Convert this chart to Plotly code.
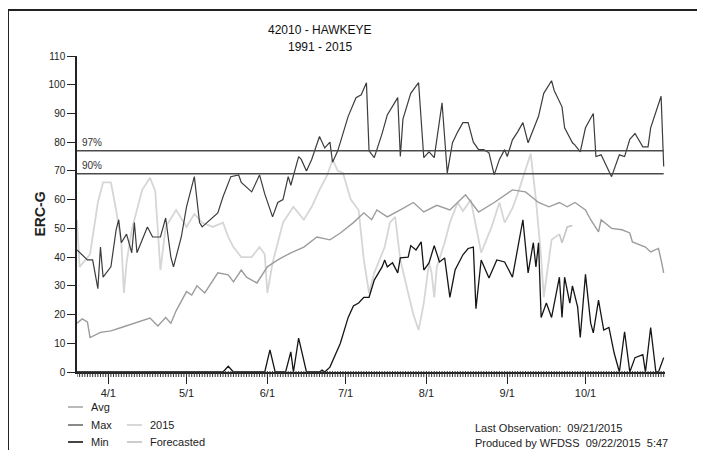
import plotly.graph_objects as go
import pandas as pd

YEAR = "2015-"

# ---------------- data ----------------
max_dates = ["03-20","03-24","03-26","03-28","03-29","03-30","04-02","04-04","04-05","04-06",
             "04-08","04-10","04-11","04-12","04-16","04-18","04-21","04-23","04-25","04-26",
             "04-29","05-01","05-04","05-06","05-07","05-11","05-13","05-15","05-18","05-21",
             "05-22","05-26","05-29","05-31","06-03","06-05","06-07","06-09","06-10","06-13",
             "06-14","06-16","06-18","06-21","06-23","06-25","06-26","06-28","07-02","07-05",
             "07-07","07-09","07-10","07-12","07-15","07-17","07-21","07-22","07-23","07-26",
             "07-29","07-31","08-02","08-04","08-07","08-09","08-11","08-13","08-15","08-17",
             "08-19","08-21","08-23","08-25","08-27","08-29","08-31","09-01","09-03","09-05",
             "09-07","09-09","09-13","09-15","09-18","09-19","09-22","09-23","09-26","09-27",
             "09-29","10-01","10-04","10-05","10-07","10-11","10-14","10-16","10-18","10-20",
             "10-23","10-25","10-26","10-30","10-31"]
max_vals = [42.5,39,39,29,43.5,33,36.6,49.5,53,45,
            48,41.5,52,41.5,50.5,47,47,53.6,40,36.6,
            47,57.5,68,52,50.5,54,55.4,61,68,68.6,
            66,62.7,68.6,62,54,59,60,68,65,75,
            74,70,74,82,78,80,73,77,89,95.5,
            96.5,100.7,77,74.6,83,89.5,95.5,75,88,97,
            100.7,74.6,76.6,74.6,93.7,69.3,79.8,83.6,86.8,86.8,
            80,77.4,77.4,76.3,68.6,74,77.4,75,80.8,83.6,
            86.8,79.8,89,97,101.4,98,92.3,85,79.8,79,
            76.6,85,90,75,75.6,68,75.6,75,81,83,
            78.4,78.4,85,96,71.5]

min_dates = ["03-20","05-15","05-17","05-19","05-31","06-02","06-04","06-08","06-10","06-11",
             "06-13","06-16","06-21","06-22","06-23","06-25","06-29","07-02","07-04","07-06",
             "07-08","07-10","07-12","07-15","07-16","07-17","07-19","07-21","07-22","07-25",
             "07-26","07-28","07-30","07-31","08-02","08-04","08-06","08-08","08-10","08-12",
             "08-15","08-17","08-19","08-20","08-22","08-25","08-28","08-31","09-03","09-07",
             "09-09","09-11","09-12","09-13","09-14","09-16","09-18","09-21","09-22","09-23",
             "09-25","09-26","09-28","09-29","10-01","10-03","10-04","10-06","10-08","10-10",
             "10-12","10-14","10-16","10-18","10-20","10-23","10-24","10-26","10-28","10-29",
             "10-31"]
min_vals = [0,0,2,0,0,7.7,0,0,7,0,
            11.8,0,0,0.7,0,1.7,10,19,23,24,
            26,26,32,36.6,39,36.6,38,34.5,39.7,40,
            44,42.5,45.3,35.5,38,44,38.3,39.7,26,35.5,
            40.8,43,43.5,22,39,32.7,39,38.3,33,53,
            34.5,45,36.6,45,19,24,19,33,19,33,
            24,30,22.6,12,34,17,13.6,25,14.6,15.5,
            6.6,0,14,0,5,6,0,15.5,0,0,
            5]

avg_dates = ["03-20","03-22","03-24","03-25","03-29","04-02","04-06","04-09","04-13","04-17",
             "04-20","04-23","04-25","04-27","05-01","05-03","05-05","05-08","05-13","05-17",
             "05-19","05-22","05-24","05-28","06-01","06-05","06-10","06-15","06-20","06-25",
             "06-29","07-04","07-08","07-11","07-13","07-17","07-22","07-27","07-31","08-05",
             "08-10","08-16","08-21","08-27","09-03","09-08","09-13","09-17","09-21","09-24",
             "09-27","10-01","10-03","10-06","10-07","10-11","10-15","10-18","10-19","10-24",
             "10-26","10-29","10-30","10-31"]
avg_vals = [17,18.5,17.4,12,13.8,14.3,15.5,16.4,17.5,18.8,
            16,19,17,21.3,28,26.8,30,27.5,34.5,33.8,
            31.4,35.5,33,31,36.6,39,41.5,43.5,47,46,
            48.4,52,55.4,53,56.4,54,56.4,59,55.7,58,
            56.4,61.7,55.7,59,63.4,62.7,59,57.5,59,57.5,
            59,56.4,53,48.8,53,50,49.5,48.4,45.3,43.5,
            41.8,43,39,34.5]

obs_dates = ["03-20","03-21","03-25","03-28","03-30","04-02","04-04","04-06","04-07","04-08",
             "04-10","04-12","04-14","04-17","04-19","04-21","04-23","04-27","05-01","05-04",
             "05-07","05-11","05-15","05-17","05-19","05-22","05-26","05-29","05-31","06-01",
             "06-03","06-07","06-11","06-15","06-18","06-21","06-24","06-26","06-28","06-30",
             "07-03","07-06","07-08","07-10","07-12","07-16","07-18","07-20","07-22","07-25",
             "07-27","07-29","07-31","08-02","08-03","08-04","08-05","08-08","08-10","08-13",
             "08-15","08-18","08-22","08-26","08-29","08-31","09-03","09-05","09-08","09-10",
             "09-12","09-14","09-15","09-18","09-21"]
obs_vals = [53,36.6,41,59,66,66,56.4,45,27.5,38,
            49.5,56.4,63.4,67.6,63,35.5,50.5,56.4,50.5,55,
            52,50.5,52,47,43.5,40,40,43.5,41,27.5,
            38,52,57.5,53,57.5,63.4,68.6,74,70,69.3,
            60,56.4,39,27.5,34.5,43.5,52,54,39,27.5,
            20,14.6,24,38,34.5,26,36.6,45,52,59,
            56,60,41.5,50.5,59,52,57,62,70,76,
            60,40,26,46,48]

fc_dates = ["09-21","09-22","09-24","09-26"]
fc_vals = [48,45,50.5,51]

pct_labels = ["97%", "90%"]
pct_vals = [77, 69]

month_ticks = ["04-01","05-01","06-01","07-01","08-01","09-01","10-01"]
month_text = ["4/1","5/1","6/1","7/1","8/1","9/1","10/1"]
y_ticks = list(range(0, 111, 10))

first_day, last_day = "03-20", "10-31"

def d(lst):
    return [YEAR + s for s in lst]

# daily minor tick positions along the x axis
day_ticks = [t.strftime("%Y-%m-%d") for t in pd.date_range(YEAR + first_day, YEAR + last_day, freq="D")]

# ---------------- geometry helpers ----------------
# The page body adds an 8px offset; screen pixel positions are converted to figure pixels.
OFF = 8
W, H = 705 - OFF, 450 - OFF
L, R, T, B = 77 - OFF, 665 - OFF, 56 - OFF, 372 - OFF
def px(x):   # x in screen pixels
    return (x - OFF - L) / (R - L)
def py(y):   # y in screen pixels
    return (B - (y - OFF)) / (B - T)

FONT = "Liberation Sans, Arial, sans-serif"

fig = go.Figure()
fig.add_trace(go.Scatter(x=d(obs_dates), y=obs_vals, mode="lines",
                         line=dict(color="#d6d6d6", width=1.8), name="2015"))
fig.add_trace(go.Scatter(x=d(fc_dates), y=fc_vals, mode="lines",
                         line=dict(color="#c4c4c4", width=1.6), name="Forecasted"))
fig.add_trace(go.Scatter(x=d(avg_dates), y=avg_vals, mode="lines",
                         line=dict(color="#9c9c9c", width=1.4), name="Avg"))
fig.add_trace(go.Scatter(x=d(min_dates), y=min_vals, mode="lines",
                         line=dict(color="#151515", width=1.3), name="Min"))
fig.add_trace(go.Scatter(x=d(max_dates), y=max_vals, mode="lines",
                         line=dict(color="#3c3c3c", width=1.2), name="Max"))
for lab, v in zip(pct_labels, pct_vals):
    fig.add_trace(go.Scatter(x=[YEAR + first_day, YEAR + last_day], y=[v, v], mode="lines",
                             line=dict(color="#4a4a4a", width=1.6), name=lab))
    fig.add_annotation(x=px(80), xref="paper", y=v, yref="y", text=lab, showarrow=False,
                       xanchor="left", yanchor="bottom", yshift=1,
                       font=dict(family=FONT, size=10, color="#333"))

# daily minor ticks (comb on the x axis), drawn as short vertical shapes hanging below the axis
tick_top = py(371)
tick_bot = py(377)
shapes = []
for t in day_ticks:
    shapes.append(dict(type="line", xref="x", yref="paper", x0=t, x1=t, y0=tick_bot, y1=tick_top,
                       line=dict(color="#333", width=1)))

for txt, yy in [("42010 - HAWKEYE", 30), ("1991 - 2015", 47)]:
    fig.add_annotation(x=px(320), y=py(yy), xref="paper", yref="paper", text=txt,
                       showarrow=False, xanchor="center", yanchor="middle",
                       font=dict(family=FONT, size=12, color="#111"))

# legend (drawn manually)
legend_items = [
    ("Avg", 68, 407, "#9c9c9c", 1.4),
    ("Max", 68, 425, "#3c3c3c", 1.2),
    ("Min", 68, 442, "#151515", 1.6),
    ("2015", 127, 425, "#cfcfcf", 1.6),
    ("Forecasted", 127, 442, "#c0c0c0", 1.6),
]
for name, x0, yy, col, w in legend_items:
    shapes.append(dict(type="line", xref="paper", yref="paper", x0=px(x0), x1=px(x0 + 15),
                       y0=py(yy), y1=py(yy), line=dict(color=col, width=w)))
    fig.add_annotation(x=px(x0 + 21), y=py(yy), xref="paper", yref="paper", text=name,
                       showarrow=False, xanchor="left", yanchor="middle",
                       font=dict(family=FONT, size=11, color="#222"))

fig.add_annotation(x=px(473), y=py(428), xref="paper", yref="paper",
                   text="Last Observation:  09/21/2015", showarrow=False,
                   xanchor="left", yanchor="middle", font=dict(family=FONT, size=11, color="#222"))
fig.add_annotation(x=px(473), y=py(443), xref="paper", yref="paper",
                   text="Produced by WFDSS  09/22/2015  5:47", showarrow=False,
                   xanchor="left", yanchor="middle", font=dict(family=FONT, size=11, color="#222"))

# page frame
shapes += [
    dict(type="line", xref="paper", yref="paper", x0=px(8), x1=px(8), y0=py(10), y1=py(452),
         line=dict(color="#222", width=2)),
    dict(type="line", xref="paper", yref="paper", x0=px(701), x1=px(701), y0=py(10), y1=py(452),
         line=dict(color="#222", width=2)),
    dict(type="line", xref="paper", yref="paper", x0=px(0), x1=px(705), y0=py(10), y1=py(10),
         line=dict(color="#222", width=2)),
]

fig.update_layout(
    width=W, height=H,
    margin=dict(l=L, r=W - R, t=T, b=H - B, pad=0),
    paper_bgcolor="white", plot_bgcolor="white",
    showlegend=False,
    shapes=shapes,
    font=dict(family=FONT, color="#222"),
    xaxis=dict(
        type="date", range=[YEAR + first_day, YEAR + last_day + " 12:00"],
        tickmode="array", tickvals=d(month_ticks), ticktext=month_text,
        ticks="outside", ticklen=10, tickwidth=1.2, tickcolor="#222",
        showline=True, linecolor="#222", linewidth=1.5,
        showgrid=False, zeroline=False,
        tickfont=dict(family=FONT, size=11, color="#222"),
    ),
    yaxis=dict(
        range=[0, 110], tickmode="array", tickvals=y_ticks,
        ticks="outside", ticklen=8, tickwidth=1.2, tickcolor="#222",
        showline=True, linecolor="#222", linewidth=1.5,
        showgrid=False, zeroline=False,
        tickfont=dict(family=FONT, size=10, color="#222"),
        title=dict(text="<b>ERC-G</b>", font=dict(family=FONT, size=14, color="#222"), standoff=0),
    ),
)

fig.write_html("out.html")
